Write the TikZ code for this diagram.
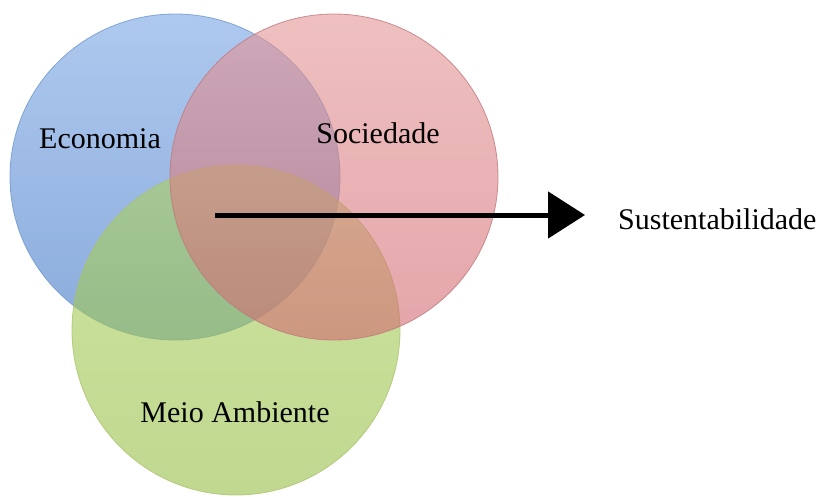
\documentclass[tikz,border=0pt]{standalone}
\usepackage{fontspec}
\setmainfont{Liberation Serif}
\usetikzlibrary{shapes.geometric,arrows.meta}
\definecolor{ecobluetop}{RGB}{120,165,228}
\definecolor{ecobluebot}{RGB}{60,115,195}
\definecolor{ecoblueline}{RGB}{110,150,205}
\definecolor{socpinktop}{RGB}{228,150,150}
\definecolor{socpinkbot}{RGB}{210,105,112}
\definecolor{socpinkline}{RGB}{190,120,125}
\definecolor{envgreentop}{RGB}{172,210,97}
\definecolor{envgreenbot}{RGB}{150,190,68}
\definecolor{envgreenline}{RGB}{170,195,110}
\tikzset{
  setellipse/.style={ellipse, inner sep=0pt, fill opacity=0.6, draw opacity=0.8, line width=0.8pt},
  setlabel/.style={font=\fontsize{30}{30}\selectfont, inner sep=0pt, anchor=base},
  bigarrow/.style={line width=5pt, -{Triangle[length=37pt,width=46pt]}}
}
\begin{document}
\begin{tikzpicture}[x=1pt,y=-1pt]
\useasboundingbox (0,0) rectangle (821,496);
\node[setellipse, top color=ecobluetop, bottom color=ecobluebot, draw=ecoblueline, minimum width=330pt, minimum height=326pt] (eco) at (175,177) {};
\node[setellipse, top color=envgreentop, bottom color=envgreenbot, draw=envgreenline, minimum width=328pt, minimum height=330pt] (env) at (236,330) {};
\node[setellipse, top color=socpinktop, bottom color=socpinkbot, draw=socpinkline, minimum width=328pt, minimum height=326pt] (soc) at (334,177) {};
\node[setlabel] (ecolabel) at (100,148) {Economia};
\node[setlabel] (soclabel) at (378,143) {Sociedade};
\node[setlabel] (envlabel) at (235,422) {Meio Ambiente};
\node[setlabel, anchor=base west] (sust) at (618,229) {Sustentabilidade};
\coordinate (arrowstart) at (215,215);
\coordinate (arrowend) at (585,215);
\draw[bigarrow] (arrowstart) -- (arrowend);
\end{tikzpicture}
\end{document}
